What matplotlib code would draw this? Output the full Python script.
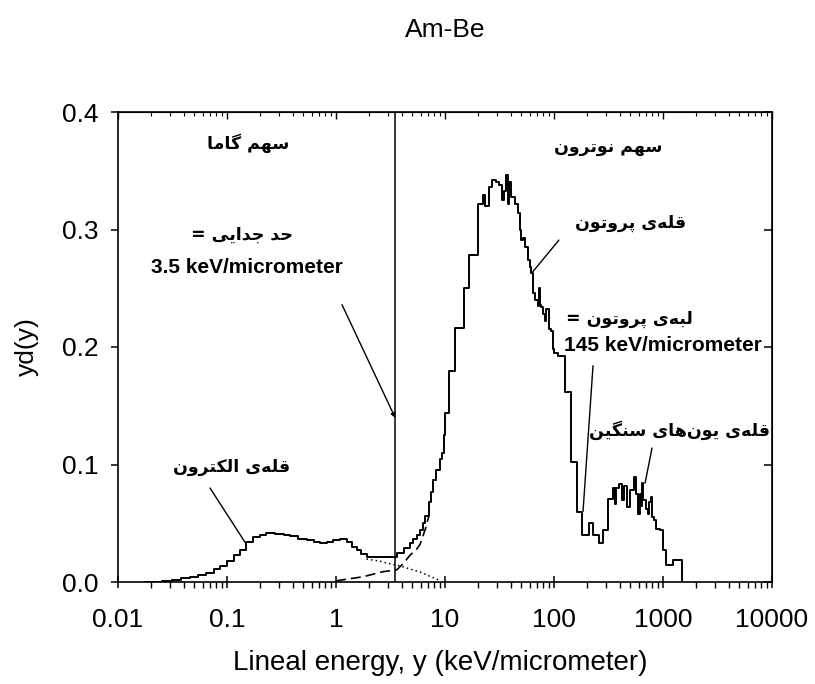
import matplotlib
matplotlib.use("Agg")
import matplotlib.pyplot as plt

# ---------------- data ----------------
# total microdosimetric spectrum (step, left edges of bins), lineal energy in keV/um
total_y = [0.0178, 0.0251, 0.0316, 0.0380, 0.0457, 0.0537, 0.0646, 0.0759, 0.0871, 0.100,
           0.115, 0.132, 0.148, 0.174, 0.200, 0.229, 0.275, 0.331, 0.380, 0.447,
           0.537, 0.631, 0.708, 0.832, 0.944, 1.096, 1.259, 1.413, 1.549, 1.698,
           1.905, 2.512, 3.162, 3.631, 4.169, 4.786, 5.129, 5.495, 5.888, 6.310,
           6.607, 7.079, 7.413, 7.762, 8.318, 8.913, 9.333, 9.772, 10.0, 10.96,
           12.30, 14.79, 16.60, 19.95, 22.13, 23.44, 25.12, 26.92, 29.51, 31.62,
           33.11, 34.67, 36.31, 37.58, 38.90, 40.74, 43.65, 46.77, 48.98, 50.12,
           52.48, 53.70, 57.54, 60.26, 61.66, 64.57, 67.61, 70.79, 72.44, 74.13,
           75.86, 79.43, 83.18, 85.11, 89.13, 93.33, 97.72, 100.0, 109.6, 125.9,
           144.5, 162.2, 182.0, 199.5, 208.9, 229.1, 239.9, 257.0, 275.4, 281.8,
           316.2, 346.7, 363.1, 371.5, 398.1, 416.9, 436.5, 467.7, 501.2, 537.0,
           562.3, 588.8, 616.6, 631.0, 645.7, 660.7, 691.8, 724.4, 741.3, 776.2,
           794.3, 831.8, 871.0, 933.3, 1000.0, 1072.0, 1230.0, 1479.0]
total_yd = [0.0, 0.001, 0.002, 0.003, 0.0045, 0.006, 0.008, 0.011, 0.014, 0.0175,
            0.023, 0.027, 0.034, 0.0385, 0.040, 0.0415, 0.041, 0.040, 0.039, 0.037,
            0.0357, 0.034, 0.0335, 0.034, 0.036, 0.037, 0.034, 0.030, 0.027, 0.024,
            0.0215, 0.021, 0.021, 0.025, 0.0287, 0.033, 0.037, 0.040, 0.044, 0.050,
            0.056, 0.068, 0.077, 0.087, 0.095, 0.105, 0.110, 0.125, 0.144, 0.180,
            0.216, 0.250, 0.278, 0.322, 0.329, 0.320, 0.336, 0.342, 0.340, 0.338,
            0.325, 0.333, 0.346, 0.322, 0.340, 0.328, 0.322, 0.314, 0.300, 0.291,
            0.293, 0.285, 0.274, 0.268, 0.263, 0.246, 0.240, 0.235, 0.250, 0.236,
            0.234, 0.228, 0.222, 0.232, 0.215, 0.214, 0.198, 0.195, 0.192, 0.162,
            0.102, 0.060, 0.040, 0.040, 0.050, 0.040, 0.040, 0.033, 0.033, 0.044,
            0.071, 0.080, 0.066, 0.080, 0.083, 0.070, 0.082, 0.064, 0.078, 0.0896,
            0.075, 0.058, 0.075, 0.065, 0.084, 0.070, 0.062, 0.058, 0.068, 0.0726,
            0.055, 0.053, 0.045, 0.044, 0.027, 0.0145, 0.019, 0.0]

# gamma component (dotted)
gamma_y = [1.905, 2.512, 2.95, 3.63, 4.17, 5.0, 5.9, 7.0, 8.9]
gamma_yd = [0.0195, 0.0178, 0.0160, 0.0143, 0.0128, 0.0105, 0.0085, 0.0055, 0.0015]

# neutron component (dashed)
neutron_y = [1.0, 1.78, 2.7, 3.16, 3.63, 4.17, 4.79, 5.5, 5.9, 6.6, 7.1]
neutron_yd = [0.001, 0.0045, 0.0088, 0.0096, 0.0105, 0.016, 0.023, 0.028, 0.032, 0.045, 0.056]

cutoff = 3.5

x_ticks = [0.01, 0.1, 1, 10, 100, 1000, 10000]
x_ticklabels = ["0.01", "0.1", "1", "10", "100", "1000", "10000"]
y_ticks = [0.0, 0.1, 0.2, 0.3, 0.4]
y_ticklabels = ["0.0", "0.1", "0.2", "0.3", "0.4"]

title = "Am-Be"
xlabel = "Lineal energy, y (keV/micrometer)"
ylabel = "yd(y)"

txt_gamma = "سهم گاما"
txt_neutron = "سهم نوترون"
txt_cut = "حد جدایی ="
txt_cut_val = "3.5 keV/micrometer"
txt_pp = "قله\u200cی پروتون"
txt_edge = "لبه\u200cی پروتون ="
txt_edge_val = "145 keV/micrometer"
txt_heavy = "قله\u200cی یون\u200cهای سنگین"
txt_elec = "قله\u200cی الکترون"

# ------------- simple Persian shaping (presentation forms, visual order) -------------
FORMS = {
    '\u0627': ('\uFE8D', '\uFE8E', None, None),
    '\u0628': ('\uFE8F', '\uFE90', '\uFE91', '\uFE92'),
    '\u067E': ('\uFB56', '\uFB57', '\uFB58', '\uFB59'),
    '\u062A': ('\uFE95', '\uFE96', '\uFE97', '\uFE98'),
    '\u062C': ('\uFE9D', '\uFE9E', '\uFE9F', '\uFEA0'),
    '\u062D': ('\uFEA1', '\uFEA2', '\uFEA3', '\uFEA4'),
    '\u062F': ('\uFEA9', '\uFEAA', None, None),
    '\u0631': ('\uFEAD', '\uFEAE', None, None),
    '\u0633': ('\uFEB1', '\uFEB2', '\uFEB3', '\uFEB4'),
    '\u0642': ('\uFED5', '\uFED6', '\uFED7', '\uFED8'),
    '\u06A9': ('\uFB8E', '\uFB8F', '\uFB90', '\uFB91'),
    '\u06AF': ('\uFB92', '\uFB93', '\uFB94', '\uFB95'),
    '\u0644': ('\uFEDD', '\uFEDE', '\uFEDF', '\uFEE0'),
    '\u0645': ('\uFEE1', '\uFEE2', '\uFEE3', '\uFEE4'),
    '\u0646': ('\uFEE5', '\uFEE6', '\uFEE7', '\uFEE8'),
    '\u0647': ('\uFEE9', '\uFEEA', '\uFEEB', '\uFEEC'),
    '\u0648': ('\uFEED', '\uFEEE', None, None),
    '\u06CC': ('\uFBFC', '\uFBFD', '\uFBFE', '\uFBFF'),
}


def fa(s):
    out = []
    n = len(s)
    for i, c in enumerate(s):
        if c not in FORMS:
            if c != '\u200c':
                out.append(c)
            continue
        f = FORMS[c]
        prev = s[i - 1] if i > 0 else None
        nxt = s[i + 1] if i < n - 1 else None
        jp = prev in FORMS and FORMS[prev][2] is not None
        jn = f[2] is not None and nxt in FORMS
        if jp and jn:
            g = f[3]
        elif jp:
            g = f[1]
        elif jn:
            g = f[2]
        else:
            g = f[0]
        out.append(g)
    return ''.join(reversed(out))


# ---------------- figure ----------------
plt.rcParams['font.family'] = ['Liberation Sans', 'DejaVu Sans']
W, H = 815, 684
fig = plt.figure(figsize=(W / 100, H / 100), dpi=100)
L, R, T, B = 118, 772, 112, 582
ax = fig.add_axes([L / W, 1 - B / H, (R - L) / W, (B - T) / H])

ax.step(total_y, total_yd, where='post', color='black', lw=1.4)
ax.plot(gamma_y, gamma_yd, color='black', lw=1.1, ls=(0, (1, 2)))
ax.plot(neutron_y, neutron_yd, color='black', lw=1.2, ls=(0, (6, 3)))
ax.axvline(cutoff, color='black', lw=1.1)

ax.set_xscale('log')
ax.set_xlim(0.01, 10000)
ax.set_ylim(0, 0.4)

ax.set_xticks(x_ticks)
ax.set_xticklabels(x_ticklabels)
ax.set_yticks(y_ticks)
ax.set_yticklabels(y_ticklabels)
ax.tick_params(axis='x', which='major', direction='inout', length=9, width=1.1,
               labelsize=19, pad=14, top=False)
ax.tick_params(axis='x', which='minor', direction='out', length=4, width=1.0, top=False)
ax.tick_params(axis='y', which='major', direction='out', length=5, width=1.1,
               labelsize=19, pad=9, right=False)
ax.tick_params(axis='y', which='minor', left=False, right=False)
for s in ax.spines.values():
    s.set_linewidth(1.2)

# top and right ticks pointing inward
sx = ax.secondary_xaxis('top')
sx.set_xscale('log')
sx.set_xticks(x_ticks)
sx.tick_params(axis='x', which='major', direction='in', length=5, width=1.0, labeltop=False)
sx.tick_params(axis='x', which='minor', direction='in', length=3, width=0.8)
sx.set_xticklabels([])
sy = ax.secondary_yaxis('right')
sy.set_yticks(y_ticks)
sy.tick_params(axis='y', which='major', direction='in', length=6, width=1.1, labelright=False)
sy.set_yticklabels([])

fig.text(445 / W, 1 - 30 / H, title, ha='center', va='center', fontsize=19)
fig.text(440 / W, 1 - 663 / H, xlabel, ha='center', va='center', fontsize=20)
fig.text(27 / W, 1 - 347 / H, ylabel, ha='center', va='center', fontsize=19, rotation=90)

fa_kw = dict(ha='center', va='center', fontsize=12.5, fontweight='bold',
             family=['DejaVu Sans'])
en_kw = dict(ha='center', va='center', fontsize=15, fontweight='bold')

ax.text(0.156, 0.3736, fa(txt_gamma), **fa_kw)
ax.text(313, 0.370, fa(txt_neutron), **fa_kw)
ax.text(0.137, 0.2953, fa(txt_cut), **fa_kw)
ax.text(0.152, 0.268, txt_cut_val, **en_kw)
ax.text(508, 0.3055, fa(txt_pp), **fa_kw)
ax.text(488, 0.2238, fa(txt_edge), **fa_kw)
ax.text(1000, 0.2017, txt_edge_val, **en_kw)
ax.text(1403, 0.129, fa(txt_heavy), **fa_kw)
ax.text(0.111, 0.0979, fa(txt_elec), **fa_kw)

line_kw = dict(arrowprops=dict(arrowstyle='-', color='black', lw=1.0, shrinkA=0, shrinkB=0))
ax.annotate('', xy=(3.5, 0.1396), xytext=(1.135, 0.236),
            arrowprops=dict(arrowstyle='-|>', color='black', lw=1.0, mutation_scale=7,
                            shrinkA=0, shrinkB=0))
ax.annotate('', xy=(63.8, 0.264), xytext=(111, 0.291), **line_kw)
ax.annotate('', xy=(184.6, 0.06), xytext=(228, 0.184), **line_kw)
ax.annotate('', xy=(684, 0.084), xytext=(793, 0.114), **line_kw)
ax.annotate('', xy=(0.146, 0.034), xytext=(0.0698, 0.080), **line_kw)

fig.savefig('out.png', dpi=100)
